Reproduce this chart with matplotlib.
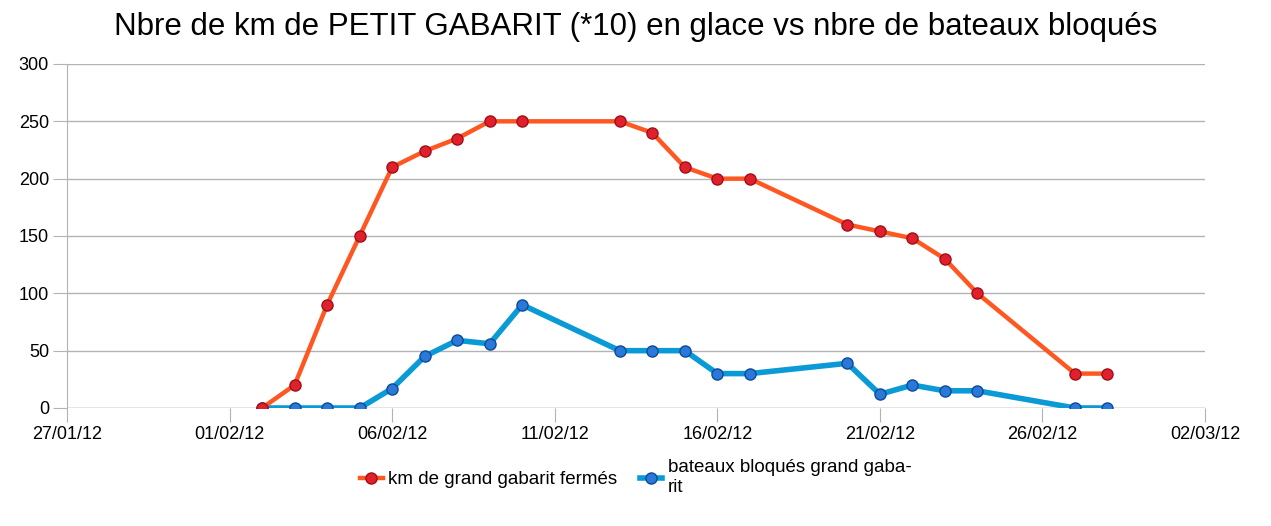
import matplotlib
matplotlib.use("Agg")
import matplotlib.pyplot as plt
import matplotlib.dates as mdates
from datetime import datetime, timedelta

plt.rcParams['font.family'] = ['Liberation Sans', 'DejaVu Sans']

# data
red_dates = ["02/02/12", "03/02/12", "04/02/12", "05/02/12", "06/02/12", "07/02/12",
             "08/02/12", "09/02/12", "10/02/12", "13/02/12", "14/02/12", "15/02/12",
             "16/02/12", "17/02/12", "20/02/12", "21/02/12", "22/02/12", "23/02/12",
             "24/02/12", "27/02/12", "28/02/12"]
km_fermes = [0, 20, 90, 150, 210, 224, 235, 250, 250, 250, 240, 210,
             200, 200, 160, 154, 148, 130, 100, 30, 30]

blue_dates = red_dates
bateaux_bloques = [0, 0, 0, 0, 17, 45, 59, 56, 90, 50, 50, 50,
                   30, 30, 39, 12, 20, 15, 15, 0, 0]

red_label = "km de grand gabarit fermés"
blue_label = "bateaux bloqués grand gaba-\nrit"
title = "Nbre de km de PETIT GABARIT (*10) en glace vs nbre de bateaux bloqués"

def to_dt(lst):
    return [datetime.strptime(d, "%d/%m/%y") for d in lst]

fig = plt.figure(figsize=(12.71, 5.26), dpi=100)
ax = fig.add_axes([67/1271, 1-408/526, (1205-67)/1271, (408-64)/526])

ax.plot(to_dt(red_dates), km_fermes, color='#ff5722', linewidth=3.2,
        marker='o', markersize=8, markerfacecolor='#e0202a',
        markeredgecolor='#a0101a', markeredgewidth=1, label=red_label, zorder=3)
ax.plot(to_dt(blue_dates), bateaux_bloques, color='#0a9ad6', linewidth=4,
        marker='o', markersize=8, markerfacecolor='#2a78d8',
        markeredgecolor='#0c4a9a', markeredgewidth=1, label=blue_label, zorder=2)

start = datetime(2012, 1, 27)
ax.set_xlim(start, datetime(2012, 3, 2))
ax.set_ylim(0, 300)
ax.set_yticks(range(0, 301, 50))
ax.set_xticks([start + timedelta(days=5 * i) for i in range(8)])
ax.xaxis.set_major_formatter(mdates.DateFormatter("%d/%m/%y"))

ax.grid(True, axis='y', color='#b3b3b3', linewidth=1)
ax.set_axisbelow(True)
for s in ['top', 'right', 'bottom']:
    ax.spines[s].set_visible(False)
ax.spines['left'].set_color('#b3b3b3')
ax.tick_params(axis='y', length=10, color='#b3b3b3', labelsize=13, pad=3)
ax.tick_params(axis='x', length=10, color='#b3b3b3', labelsize=13, pad=3)
ax.axhline(0, color='#b3b3b3', linewidth=1, zorder=1)

fig.suptitle(title, fontsize=22.5, y=0.978)

ax.legend(loc='upper center', bbox_to_anchor=(0.5, -0.10), ncol=2, frameon=False,
          fontsize=13.5, handlelength=1.2, handletextpad=0.3, columnspacing=1.2,
          labelspacing=0.2)

plt.savefig("out.png", dpi=100)
